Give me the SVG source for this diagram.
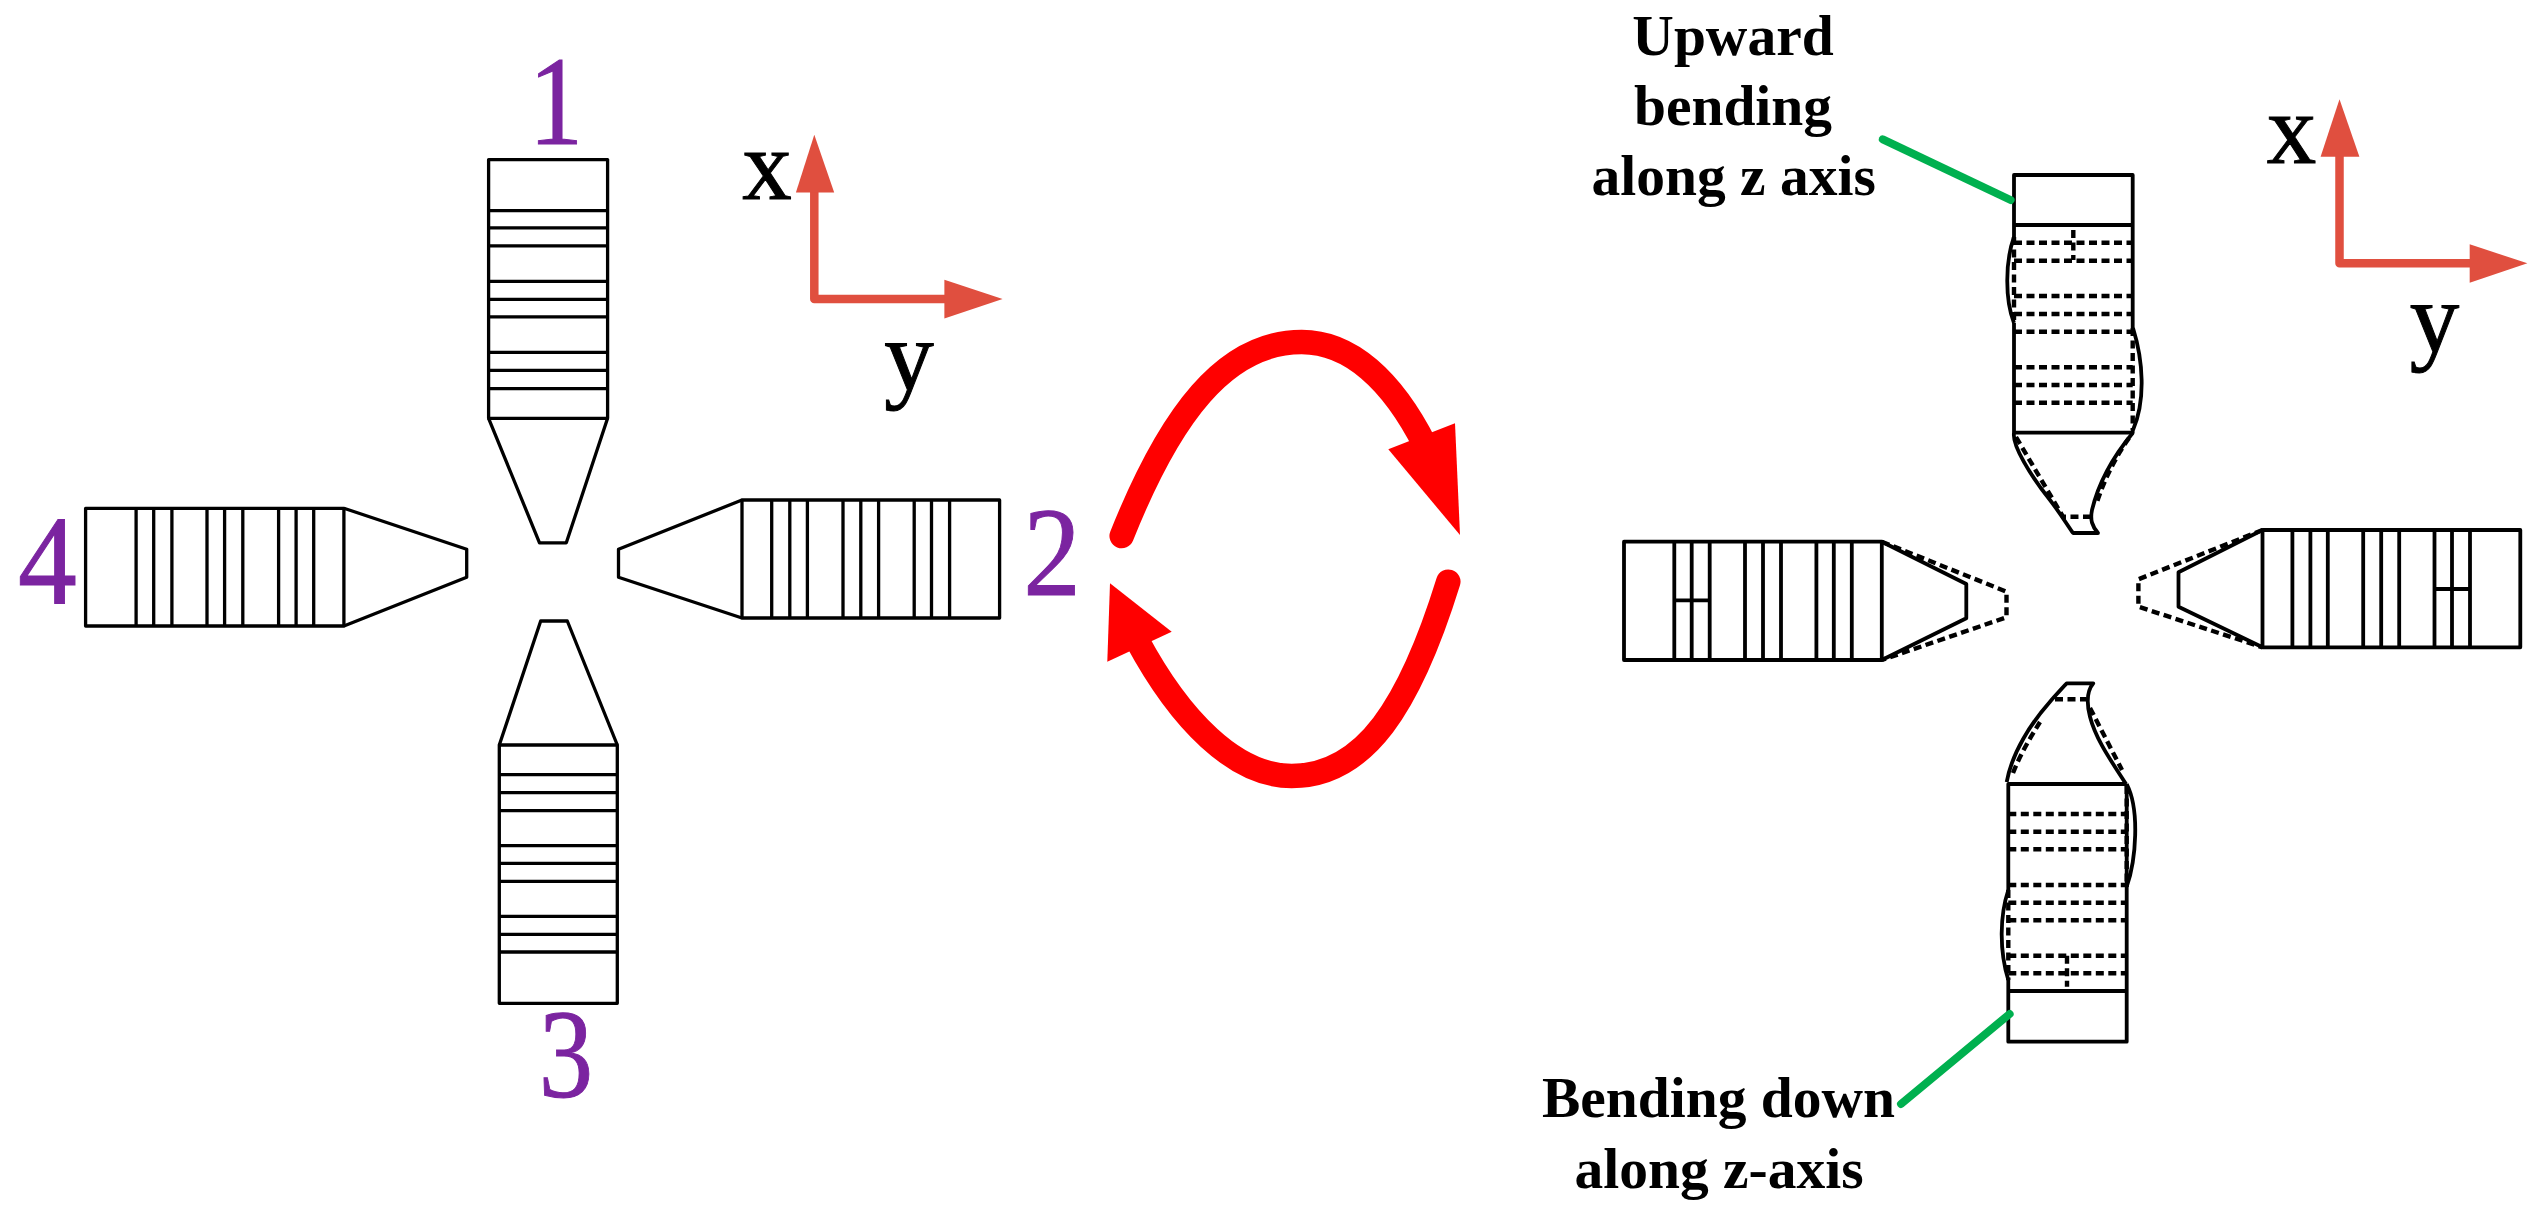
<svg xmlns="http://www.w3.org/2000/svg" width="2542" height="1219" viewBox="0 0 2542 1219">
<style>
.s{fill:none;stroke:#000;stroke-width:3.3;stroke-linejoin:round}
.r{fill:none;stroke:#000;stroke-width:3.8;stroke-linejoin:round}
.d{fill:none;stroke:#000;stroke-width:4.4;stroke-dasharray:8 4.5}
.ax{fill:none;stroke:#E04F3F;stroke-width:8.5;stroke-linejoin:round}
.axh{fill:#E04F3F}
.lead{fill:none;stroke:#00B04F;stroke-width:8;stroke-linecap:round}
.red{fill:none;stroke:#F00;stroke-width:24.5;stroke-linecap:round}
.redh{fill:#F00}
.num{font-family:"Liberation Serif",serif;font-size:128px;fill:#7B24A0;stroke:#7B24A0;stroke-width:1;text-anchor:middle}
.axt{font-family:"Liberation Serif",serif;font-size:99px;fill:#000;stroke:#000;stroke-width:1;text-anchor:middle}
.lab{font-family:"Liberation Serif",serif;font-size:57.5px;font-weight:bold;fill:#000;text-anchor:middle}
</style>
<rect width="2542" height="1219" fill="#fff"/>
<g id="axes-left">
<path class="ax" d="M814.3 190V299H946"/>
<polygon class="axh" points="814.3,134.8 795.9,192.4 834.2,192.4"/>
<polygon class="axh" points="1002.6,299 944.4,279.7 944.4,318.6"/>
<text class="axt" x="767" y="199.3">x</text>
<text class="axt" x="909" y="389.6">y</text>
</g>
<g id="axes-right">
<path class="ax" d="M2339.5 155V263.3H2471"/>
<polygon class="axh" points="2339.5,99.3 2320.6,156.7 2359.4,156.7"/>
<polygon class="axh" points="2527.4,263.3 2469.7,244.3 2469.7,282.7"/>
<text class="axt" x="2291.5" y="163.3">x</text>
<text class="axt" x="2434.5" y="352">y</text>
</g>
<g id="electrode-1">
<path class="s" d="M488.6 159.6H607.6V418.3H488.6ZM488.6 210.7H607.6M488.6 227.9H607.6M488.6 245.9H607.6M488.6 281.4H607.6M488.6 299.3H607.6M488.6 316.9H607.6M488.6 352.4H607.6M488.6 370.3H607.6M488.6 388.6H607.6"/>
<path class="s" d="M488.6 418.3L539.5 542.8H566.3L607.6 418.3"/>
<text class="num" transform="translate(556 143.5) scale(.85 1)">1</text>
</g>
<g id="electrode-2">
<path class="s" d="M742 500H999.6V618H742ZM771.7 500V618M789.8 500V618M807.4 500V618M843 500V618M860.8 500V618M878.6 500V618M914.2 500V618M931.5 500V618M949.6 500V618"/>
<path class="s" d="M742 500L618.5 549.3V577.3L742 618"/>
<text class="num" transform="translate(1052 595) scale(.9 1)">2</text>
</g>
<g id="electrode-3">
<path class="s" d="M499.3 745H617.3V1003.3H499.3ZM499.3 774.7H617.3M499.3 792.7H617.3M499.3 810.7H617.3M499.3 845.7H617.3M499.3 863.3H617.3M499.3 881.3H617.3M499.3 916.3H617.3M499.3 934.3H617.3M499.3 952H617.3"/>
<path class="s" d="M499.3 745L540.7 621H567.3L617.3 745"/>
<text class="num" transform="translate(566 1097) scale(.85 1)">3</text>
</g>
<g id="electrode-4">
<path class="s" d="M85.6 508.3H343.9V626H85.6ZM136.1 508.3V626M153.7 508.3V626M171.9 508.3V626M207 508.3V626M224.6 508.3V626M242.8 508.3V626M278.6 508.3V626M296.1 508.3V626M313.7 508.3V626"/>
<path class="s" d="M343.9 508.3L466.7 549.3V577.3L343.9 626"/>
<text class="num" transform="translate(47.5 603) scale(.92 1)">4</text>
</g>
<g id="bent-1">
<path class="r" d="M2014 237V175H2132.7V328M2014 323V432.7H2132.7V430M2014 225H2132.7"/>
<path class="d" d="M2014 237V323M2132.7 328V430"/>
<path class="r" d="M2014 237C2005 262 2005 300 2014 323M2133 328C2143 360 2146 400 2133 430"/>
<path class="d" d="M2014 242.7H2132.7M2014 260.7H2132.7M2014 296H2132.7M2014 314H2132.7M2014 331.7H2132.7M2014 367.3H2132.7M2014 385H2132.7M2014 402.7H2132.7M2073.3 230V260"/>
<path class="r" d="M2014 433C2012 445 2030 475 2050 500C2060 513 2068 526 2073 533H2098C2092 526 2090 520 2092 510C2098 485 2112 458 2132.7 433"/>
<path class="d" d="M2016 437L2063 516.7H2091.7M2129 438C2115 458 2104 480 2096 505"/>
</g>
<g id="bent-2">
<path class="r" d="M1881.8 541.7H1624V660H1881.8ZM1674.3 541.7V660M1691.7 541.7V660M1709.7 541.7V660M1745 541.7V660M1763 541.7V660M1781 541.7V660M1816.4 541.7V660M1833.8 541.7V660M1851.8 541.7V660M1674.3 600.3H1709.7"/>
<path class="r" d="M1881.8 541.7L1966.3 584V618.3L1881.8 660"/>
<path class="d" d="M1881.8 541.7L2006.5 591.7V617.3L1881.8 660"/>
</g>
<g id="bent-3">
<path class="r" d="M2262.5 530H2520.3V647.3H2262.5ZM2292.4 530V647.3M2310.4 530V647.3M2327.8 530V647.3M2363.2 530V647.3M2381.2 530V647.3M2399.2 530V647.3M2434.5 530V647.3M2452 530V647.3M2470 530V647.3M2434.5 589H2470"/>
<path class="r" d="M2262.5 530L2178.5 572.3V606.7L2262.5 647.3"/>
<path class="d" d="M2262.5 530L2138.4 579.3V606.7L2262.5 647.3"/>
</g>
<g id="bent-4">
<path class="r" d="M2126.7 784V886.7M2126.7 784H2008.3V890M2008.3 980V1041.7H2126.7V886.7M2008.3 991H2126.7"/>
<path class="d" d="M2126.7 786V886.7M2008.3 890V980"/>
<path class="r" d="M2008.3 890C2000 915 1999 950 2008.3 980M2126.7 784C2140 810 2136 860 2126.7 886.7"/>
<path class="d" d="M2008.3 814H2126.7M2008.3 831.7H2126.7M2008.3 849.3H2126.7M2008.3 885H2126.7M2008.3 902.7H2126.7M2008.3 920.3H2126.7M2008.3 955.7H2126.7M2008.3 973.3H2126.7M2067 955.7V986.7"/>
<path class="r" d="M2006.7 782C2012 752 2032 722 2050 701.7C2056 695 2062 688 2066.7 683.3H2093.3C2086 692 2087 705 2090 716.7C2096 740 2112 762 2126 784"/>
<path class="d" d="M2013 773C2020 755 2030 738 2040 722M2055 699.3H2086.7M2090 708L2122 770"/>
</g>
<g id="connectors">
<path class="lead" d="M1882.8 139.3L2010.6 200"/>
<path class="lead" d="M1901 1104L2009.6 1014"/>
<path class="red" d="M1121.7 536C1170 415 1225 342 1301.7 342C1350 342 1392 380 1425 445"/>
<polygon class="redh" points="1388.3,449.3 1455,423.3 1460,535"/>
<path class="red" d="M1448.3 581.7C1410 705 1365 776 1291.7 776C1235 776 1180 720 1137 640"/>
<polygon class="redh" points="1110,583.3 1107.3,661.7 1171.7,631.7"/>
</g>
<g id="label-top">
<text class="lab" x="1733" y="55">Upward</text>
<text class="lab" x="1733" y="125">bending</text>
<text class="lab" x="1733.7" y="195">along z axis</text>
</g>
<g id="label-bottom">
<text class="lab" x="1718.5" y="1117.3">Bending down</text>
<text class="lab" x="1719" y="1188">along z-axis</text>
</g>
</svg>
